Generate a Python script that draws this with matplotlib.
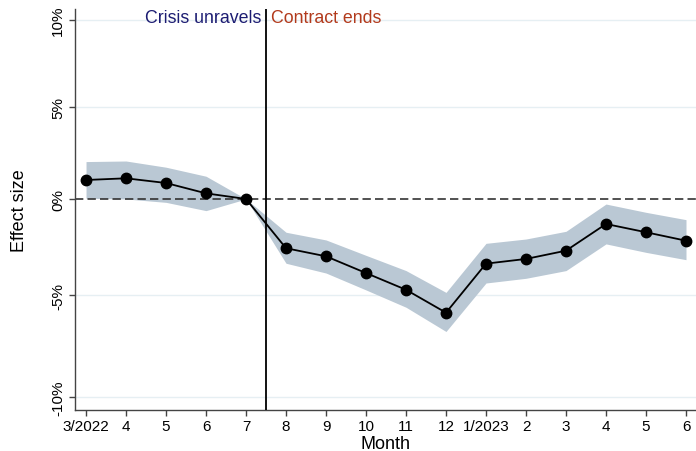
import numpy as np
import matplotlib.pyplot as plt

plt.rcParams['font.family'] = ['Liberation Sans', 'DejaVu Sans']

months = ["3/2022", "4", "5", "6", "7", "8", "9", "10", "11", "12",
          "1/2023", "2", "3", "4", "5", "6"]
# effects in log points (axis labelled as percent change)
effect = [0.0101, 0.0110, 0.0085, 0.0030, 0.0, -0.0262, -0.0305, -0.0394, -0.0483, -0.0605,
          -0.0344, -0.0319, -0.0275, -0.0133, -0.0177, -0.0222]
upper = [0.0199, 0.0202, 0.0169, 0.0121, 0.0, -0.0177, -0.0218, -0.0300, -0.0381, -0.0497,
         -0.0236, -0.0213, -0.0172, -0.0027, -0.0071, -0.0110]
lower = [0.0004, 0.0000, -0.0018, -0.0062, 0.0, -0.0342, -0.0394, -0.0484, -0.0576, -0.0705,
         -0.0447, -0.0422, -0.0381, -0.0239, -0.0284, -0.0323]
pct_ticks = [0.10, 0.05, 0.0, -0.05, -0.10]
pct_labels = ["10%", "5%", "0%", "-5%", "-10%"]

x = np.arange(len(months))
yt = np.log1p(pct_ticks)

fig = plt.figure(figsize=(6.96, 4.52), dpi=100)
ax = fig.add_axes([0.1078, 0.0914, 0.8922, 0.8866])

for v in yt:
    if v != 0:
        ax.axhline(v, color="#e6eff3", lw=1.0, zorder=0)
ax.fill_between(x, lower, upper, color="#bac8d4", lw=0, zorder=1)
ax.axhline(0, color="#333333", lw=1.2, ls=(0, (5, 2.5)), zorder=2)
ax.axvline(4.5, color="black", lw=1.3, zorder=3)
ax.plot(x, effect, "o-", color="black", lw=1.3, ms=7.5, zorder=4)

ax.text(4.38, 0.0965, "Crisis unravels", color="#1c1c72", fontsize=12.8,
        ha="right", va="center")
ax.text(4.62, 0.0965, "Contract ends", color="#b23a1c", fontsize=12.8,
        ha="left", va="center")

ax.set_xlim(-0.275, 15.25)
ax.set_ylim(-0.1121, 0.1011)
ax.set_xticks(x)
ax.set_xticklabels(months, fontsize=11)
ax.set_yticks(yt)
ax.set_yticklabels(pct_labels, fontsize=11, rotation=90, va="center")
ax.tick_params(length=4, width=1, color="#444444", pad=3)
ax.set_xlabel("Month", fontsize=13, labelpad=1)
ax.set_ylabel("Effect size", fontsize=13, labelpad=17)

for s in ["top", "right"]:
    ax.spines[s].set_visible(False)
for s in ["left", "bottom"]:
    ax.spines[s].set_color("#444444")
    ax.spines[s].set_linewidth(1.0)

fig.savefig("out.png", dpi=100)
